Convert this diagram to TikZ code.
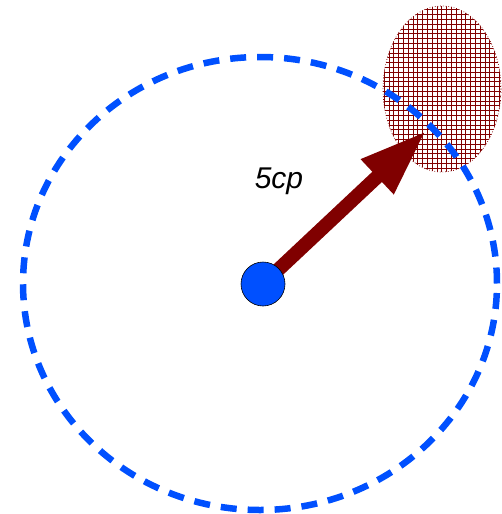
\documentclass[tikz,border=0pt]{standalone}
\usepackage{fontspec}
\setmainfont{Liberation Sans}
\usepackage{xcolor}
\definecolor{cBlue}{HTML}{0050FF}
\definecolor{cRed}{HTML}{800000}
\usepackage{tikz}
\usetikzlibrary{positioning,arrows.meta,shapes.geometric}
\tikzset{
  node-range/.style={draw=cBlue,ellipse,line width=6.5pt,
    dash pattern=on 16pt off 11pt,inner sep=0pt,
    minimum width=474pt,minimum height=453pt},
  node-zone/.style={draw=cRed,ellipse,line width=0.7pt,dotted,inner sep=0pt,
    minimum width=118pt,minimum height=166pt},
  zone-grid/.style={draw=cRed,line width=0.6pt},
  node-dot/.style={draw=black,circle,fill=cBlue,line width=0.6pt,
    inner sep=0pt,minimum size=44pt},
  arrow-big/.style={-{Triangle[length=67pt,width=44pt]},line width=14pt,draw=cRed},
}

\begin{document}
\begin{tikzpicture}[x=1pt,y=-1pt]
  \useasboundingbox (0,0) rectangle (501,514);
  \node[node-zone] (zone) at (442,89) {};
  % grid hatching inside the zone
  \begin{scope}
    \clip (zone.center) ellipse [x radius=59pt,y radius=83pt];
    \draw[zone-grid,step=4.8pt] (380,2) grid (505,176);
  \end{scope}
  \node[node-range] (range) at (260,283.5) {};
  \coordinate (tip) at (426,131);
  \node[font=\itshape\fontsize{30}{36}\selectfont] (label) at (279,181) {5cp};

  \draw[arrow-big] (263,284) coordinate (start) -- (tip);
  \node[node-dot] (dot) at (start) {};
\end{tikzpicture}
\end{document}
